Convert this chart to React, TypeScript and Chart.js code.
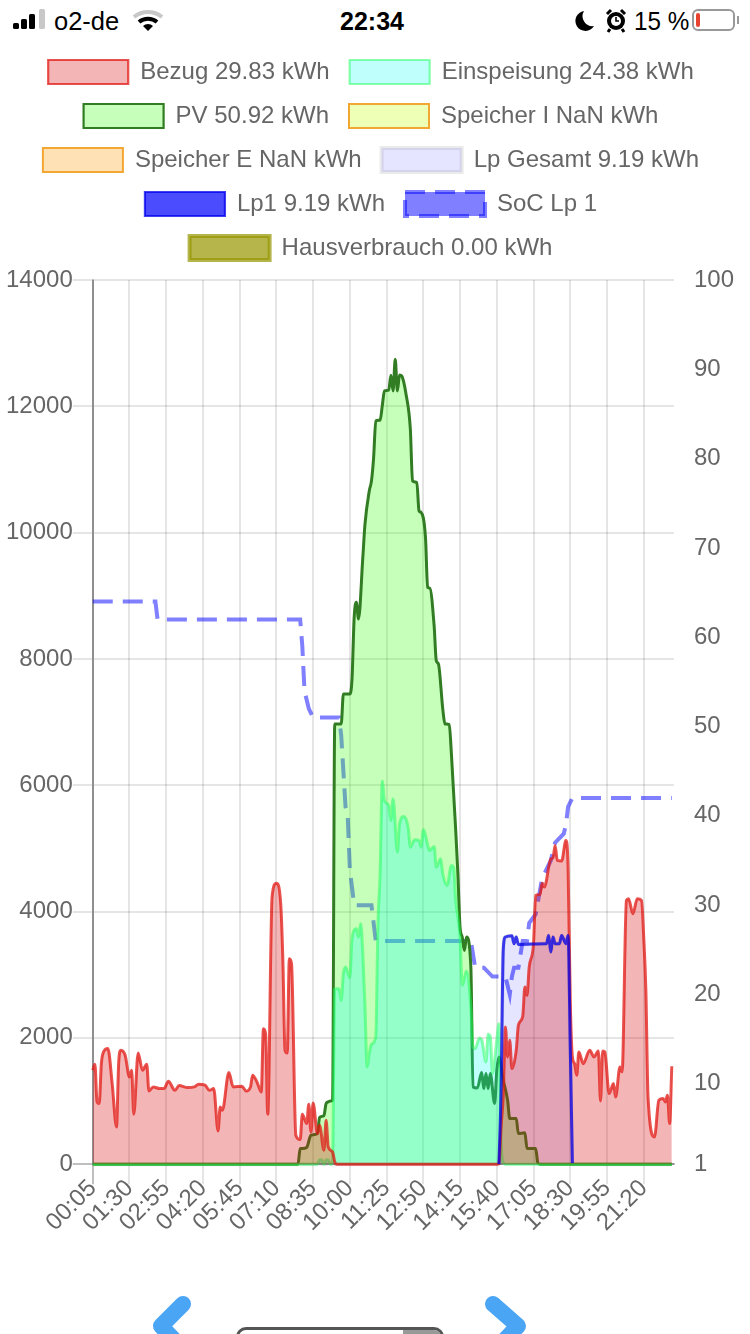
import React, { useEffect, useRef } from "react";
import { Chart, registerables } from "chart.js";

Chart.register(...registerables);

// Each pair is [5-minute slot counted from 00:05]
const bezug = [[0,1487],[1,1582],[2,986],[3,960],[4,1600],[5,1777],[7,1830],[9,1276],[11,590],[12,1600],[13,1803],[15,1724],[17,1381],[18,1487],[19,790],[21,1761],[23,1487],[25,1582],[26,1160],[28,1223],[31,1197],[33,1197],[35,1313],[38,1170],[40,1244],[44,1213],[47,1223],[49,1265],[52,1250],[54,1170],[56,1197],[58,527],[59,907],[60,854],[63,1450],[65,1223],[69,1234],[71,1160],[73,1223],[74,1408],[76,1302],[78,1144],[79,2146],[80,2067],[81,790],[83,4229],[85,4450],[87,4123],[88,3227],[89,1803],[90,1761],[91,3253],[92,3174],[94,459],[96,390],[97,790],[99,643],[100,949],[101,511],[102,970],[104,485],[105,617],[107,221],[108,696],[109,274],[111,195],[112,37],[113,0],[187,0],[188,10],[189,600],[190,1100],[191,2172],[192,1698],[193,1961],[194,1513],[196,1803],[197,2200],[199,2341],[200,2805],[201,2673],[202,3121],[204,3490],[205,4255],[207,4271],[208,4450],[209,4387],[212,4835],[213,4851],[214,5046],[215,4809],[217,4800],[219,5125],[220,4700],[221,2600],[222,1698],[223,1592],[224,1408],[225,1777],[227,1592],[230,1803],[232,1698],[234,1793],[235,1002],[236,1793],[237,1777],[239,1118],[241,1276],[242,1065],[244,1540],[245,1461],[247,4176],[248,4203],[250,3965],[252,4203],[254,4176],[255,3596],[256,2752],[257,1065],[260,432],[262,1012],[264,1039],[265,986],[266,1091],[267,643],[268,1550]];

const einspeisung = [[0,0],[104,0],[105,70],[106,70],[107,0],[108,70],[109,70],[110,0],[111,40],[112,2779],[114,2779],[115,2594],[116,3016],[117,3122],[119,2953],[120,3570],[122,3728],[123,3596],[124,3807],[125,3333],[126,2489],[127,1540],[128,1751],[129,1900],[131,2014],[132,3800],[133,4598],[134,6064],[135,5758],[137,5679],[138,5442],[139,5784],[141,4941],[142,5389],[144,5505],[146,5326],[147,5020],[149,5136],[151,5125],[152,5020],[153,5294],[156,4967],[158,5030],[159,4703],[161,4835],[162,4598],[164,4413],[166,4730],[167,4703],[168,4176],[170,3596],[171,2832],[173,3058],[175,2489],[176,1856],[177,1830],[179,1998],[180,1972],[182,1619],[183,2056],[184,2014],[185,1434],[187,1962],[188,2225],[189,380],[190,30],[191,0],[268,0]];

const pv = [[0,0],[95,0],[96,248],[97,248],[99,264],[101,459],[104,485],[105,738],[107,770],[108,960],[109,986],[110,1002],[111,1012],[112,6971],[115,6971],[116,7445],[119,7445],[120,7683],[121,8658],[122,8896],[123,8632],[125,9607],[126,10135],[128,10662],[129,10820],[130,11189],[131,11769],[133,11780],[134,12007],[135,12244],[137,12255],[138,12492],[139,12244],[140,12745],[141,12244],[142,12497],[143,12481],[145,12191],[147,11637],[148,10820],[150,10794],[151,10346],[152,10319],[154,9924],[155,9133],[156,9122],[158,8526],[159,7973],[160,7920],[162,7208],[163,6971],[165,6960],[166,6496],[168,5283],[169,4598],[170,3754],[171,3596],[172,3385],[173,3596],[175,3122],[176,1223],[178,1207],[180,1450],[181,1197],[182,1434],[183,1197],[184,1434],[186,960],[187,1487],[188,1698],[190,1329],[192,1012],[193,722],[196,722],[197,485],[200,496],[201,248],[205,248],[206,21],[207,0],[268,0]];

const speicherI: number[][] = [];
const speicherE: number[][] = [];

const lpGesamt = [[0,0],[104,0],[105,15],[106,0],[108,0],[109,15],[110,0],[188,0],[189,1200],[190,3400],[191,3596],[194,3617],[195,3491],[196,3596],[197,3480],[209,3491],[210,3491],[211,3622],[212,3359],[213,3596],[214,3491],[216,3490],[217,3622],[219,3491],[220,3622],[221,1856],[222,20],[223,0],[268,0]];
const lp1 = [[188,0],[189,1200],[190,3400],[191,3596],[194,3617],[195,3491],[196,3596],[197,3480],[209,3491],[210,3491],[211,3622],[212,3359],[213,3596],[214,3491],[216,3490],[217,3622],[219,3491],[220,3622],[221,1856],[222,20]];

const socLp1 = [[0,64],[29,64],[30,62],[96,62],[97,59],[98,54],[99,53],[100,52],[102,51],[114,51],[115,49],[116,45],[117,41],[118,40],[119,34],[120,32],[121,30],[129,30],[130,28],[131,26],[171,26],[175,26],[177,23],[181,23],[185,22],[191,22],[193,20],[194,22],[195,23],[197,23],[199,26],[201,26],[202,28],[205,29],[208,33],[212,35],[214,37],[218,38],[219,39],[220,41],[222,42],[268,42]];

const hausverbrauch: number[][] = [];

const tickSlots = [0,17,34,51,68,85,102,119,136,153,170,187,204,221,238,255];
const tickLabels = ["00:05","01:30","02:55","04:20","05:45","07:10","08:35","10:00","11:25","12:50","14:15","15:40","17:05","18:30","19:55","21:20"];
const lastSlot = 269;

const FONT = "'Liberation Sans', Arial, sans-serif";
const pts = (a: number[][]) => a.map(([x, y]) => ({ x, y }));

const tuneLegend = {
  id: "tuneLegend",
  beforeInit(chart: any) {
    const legend = chart.legend;
    const fit = legend.fit;
    legend.fit = function () {
      fit.call(this);
      this.height += 10;
    };
    const draw = legend.draw;
    legend.draw = function () {
      const ctx = this.ctx;
      ctx.save();
      ctx.translate(-9, 0);
      draw.call(this);
      ctx.restore();
    };
  },
};

function ChartCanvas() {
  const ref = useRef<HTMLCanvasElement>(null);
  useEffect(() => {
    const line = (label: string, data: number[][], borderColor: string, backgroundColor: string, borderWidth: number, extra: any = {}) => ({
      label, data: pts(data), borderColor, backgroundColor, borderWidth, fill: "origin", pointRadius: 0, pointHitRadius: 0,
      cubicInterpolationMode: "monotone", yAxisID: "y", clip: 3, ...extra,
    });
    const axisGrid = (ctx: any) => (ctx.tick && ctx.tick.value === 0 ? "rgba(0,0,0,0.25)" : "rgba(0,0,0,0.1)");
    const chart = new Chart(ref.current!, {
      type: "line",
      plugins: [tuneLegend],
      data: {
        datasets: [
          line("Bezug 29.83 kWh", bezug, "rgba(225,25,20,0.75)", "rgba(220,10,13,0.3)", 3),
          line("Einspeisung 24.38 kWh", einspeisung, "rgba(30,255,90,0.5)", "rgba(0,255,243,0.25)", 3),
          line("PV 50.92 kWh", pv, "rgb(50,125,35)", "rgba(62,255,28,0.3)", 3),
          line("Speicher I NaN kWh", speicherI, "#f3a733", "rgba(200,255,13,0.3)", 2),
          line("Speicher E NaN kWh", speicherE, "#f3a733", "rgba(255,155,13,0.3)", 2),
          line("Lp Gesamt 9.19 kWh", lpGesamt, "rgba(50,50,55,0.1)", "rgba(0,0,255,0.1)", 4),
          line("Lp1 9.19 kWh", lp1, "rgba(0,0,235,0.75)", "rgba(0,0,255,0.7)", 3, { fill: false, order: -1 }),
          line("SoC Lp 1", socLp1, "rgba(0,0,255,0.5)", "rgba(0,0,255,0.5)", 4, { fill: false, yAxisID: "y2", borderDash: [20, 10], cubicInterpolationMode: "default", tension: 0 }),
          line("Hausverbrauch 0.00 kWh", hausverbrauch, "rgba(150,150,0,0.7)", "rgba(150,150,0,0.7)", 4),
        ] as any,
      },
      options: {
        responsive: false,
        animation: false,
        devicePixelRatio: 1,
        parsing: { xAxisKey: "x", yAxisKey: "y" },
        layout: { padding: { right: -18 } },
        plugins: {
          legend: {
            position: "top",
            labels: {
              boxWidth: 80, boxHeight: 24, padding: 20, color: "#666",
              font: { family: FONT, size: 24, lineHeight: 1 },
              sort: (a: any, b: any) => a.datasetIndex - b.datasetIndex,
              generateLabels: (c: any) =>
                Chart.defaults.plugins.legend.labels.generateLabels(c).map((l: any) => ({
                  ...l,
                  lineWidth: l.lineWidth === 3 ? 2.2 : l.lineWidth,
                })),
            },
          },
          tooltip: { enabled: false },
        },
        scales: {
          x: {
            type: "linear", min: 0, max: lastSlot,
            afterBuildTicks: (s: any) => { s.ticks = tickSlots.map((value) => ({ value })); },
            afterFit: (s: any) => { s.height += 40; },
            ticks: {
              autoSkip: false, maxRotation: 45, minRotation: 45, color: "#666", padding: -10,
              font: { family: FONT, size: 24 },
              callback: (v: any) => tickLabels[tickSlots.indexOf(Number(v))] ?? "",
            },
            grid: { color: axisGrid, lineWidth: 2, tickLength: 20 },
            border: { color: "rgba(0,0,0,0.25)", width: 2 },
          },
          y: {
            type: "linear", position: "left", min: 0, max: 14000,
            ticks: { stepSize: 2000, color: "#666", padding: 0, font: { family: FONT, size: 24 }, callback: (v: any) => String(v) },
            grid: { color: axisGrid, lineWidth: 2, tickLength: 20 },
            border: { color: "rgba(0,0,0,0.25)", width: 2 },
          },
          y2: {
            type: "linear", position: "right", min: 1, max: 100,
            ticks: { stepSize: 10, color: "#666", padding: 20, font: { family: FONT, size: 24 } },
            grid: { drawOnChartArea: false, drawTicks: false, color: "rgba(0,0,0,0.1)", lineWidth: 2 },
            border: { display: false },
          },
        },
      } as any,
    });
    return () => chart.destroy();
  }, []);
  return <canvas ref={ref} width={730} height={1227} style={{ display: "block", position: "absolute", left: 6, top: 40 }} />;
}

const Abs: React.FC<{ s: React.CSSProperties; children?: React.ReactNode }> = ({ s, children }) => (
  <div style={{ position: "absolute", ...s }}>{children}</div>
);

export default function App() {
  return (
    <div style={{ position: "fixed", left: 0, top: 0, width: 750, height: 1334, overflow: "hidden", background: "#fff", fontFamily: FONT }}>
      {/* status bar */}
      {[[13, 6], [21, 10], [29, 15], [39, 20]].map(([x, h], i) => (
        <Abs key={i} s={{ left: x, top: 29 - h, width: 6, height: h, borderRadius: 1.5, background: i === 3 ? "#c8c8c8" : "#000" }} />
      ))}
      <Abs s={{ left: 54, top: 7, fontSize: 25.5, color: "#000", lineHeight: "28px" }}>o2-de</Abs>
      <svg style={{ position: "absolute", left: 132, top: 8 }} width="34" height="24" viewBox="0 0 34 24">
        <path d="M2 9 A22 22 0 0 1 30 9" fill="none" stroke="#c8c8c8" strokeWidth="4" />
        <path d="M7 14 A14 14 0 0 1 25 14" fill="none" stroke="#000" strokeWidth="4" />
        <path d="M11 18 L16 23 L21 18 A7 7 0 0 0 11 18Z" fill="#000" />
      </svg>
      <Abs s={{ left: 340, top: 6, fontSize: 25, fontWeight: 700, color: "#000", lineHeight: "30px" }}>22:34</Abs>
      <svg style={{ position: "absolute", left: 574, top: 8 }} width="60" height="26" viewBox="0 0 60 26">
        <path d="M10 3 A10 10 0 1 0 20 18 A10 10 0 0 1 10 3Z" fill="#000" />
        <circle cx="42" cy="13" r="9" fill="#000" />
        <circle cx="42" cy="13" r="5" fill="#fff" />
        <path d="M42 9 V13 H45" stroke="#000" strokeWidth="1.6" fill="none" />
        <path d="M33 6 L37 2 M51 6 L47 2 M36 21 L34 24 M48 21 L50 24" stroke="#000" strokeWidth="3" />
      </svg>
      <Abs s={{ left: 634, top: 7, fontSize: 25, color: "#000", lineHeight: "28px", transform: "scaleX(0.97)", transformOrigin: "left" }}>15 %</Abs>
      <Abs s={{ left: 692, top: 9, width: 43, height: 22, border: "2px solid #999", borderRadius: 6, boxSizing: "border-box" }} />
      <Abs s={{ left: 696, top: 13, width: 4, height: 14, background: "#e8432e", borderRadius: 2 }} />
      <Abs s={{ left: 737, top: 16, width: 2, height: 8, background: "#999" }} />

      <ChartCanvas />

      {/* controls below the chart */}
      <svg style={{ position: "absolute", left: 140, top: 1284 }} width="60" height="50" viewBox="0 0 60 50">
        <path d="M43 20 L21 42 L40 62" fill="none" stroke="#4aa5f5" strokeWidth="16" strokeLinecap="round" strokeLinejoin="round" />
      </svg>
      <svg style={{ position: "absolute", left: 480, top: 1284 }} width="60" height="50" viewBox="0 0 60 50">
        <path d="M13 20 L38 42 L19 62" fill="none" stroke="#4aa5f5" strokeWidth="16" strokeLinecap="round" strokeLinejoin="round" />
      </svg>
      <Abs s={{ left: 236, top: 1327, width: 208, height: 30, border: "3px solid #555", borderRadius: 10, boxSizing: "border-box", overflow: "hidden", background: "#fff" }}>
        <div style={{ position: "absolute", left: 164, top: 0, width: 41, height: 30, background: "#999" }} />
      </Abs>
    </div>
  );
}
